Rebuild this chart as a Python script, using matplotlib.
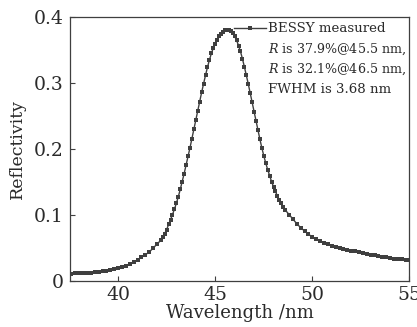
import matplotlib
matplotlib.use('Agg')
import matplotlib.pyplot as plt
from matplotlib.lines import Line2D
from matplotlib.ticker import FuncFormatter

plt.rcParams['font.family'] = 'DejaVu Serif'
plt.rcParams['mathtext.fontset'] = 'dejavuserif'

# wavelength (nm) and reflectivity
wavelength = [
    37.5, 37.6, 37.8, 38.0, 38.2, 38.4, 38.6, 38.8, 39.0, 39.2, 39.4, 39.6, 39.8,
    40.0, 40.2, 40.4, 40.6, 40.8, 41.0, 41.2, 41.4, 41.6, 41.8, 42.0, 42.2,
    42.3, 42.4, 42.5, 42.6, 42.7, 42.8, 42.9, 43.0, 43.1, 43.2, 43.3, 43.4,
    43.5, 43.6, 43.7, 43.8, 43.9, 44.0, 44.1, 44.2, 44.3, 44.4, 44.5, 44.6,
    44.7, 44.8, 44.9, 45.0, 45.1, 45.2, 45.3, 45.4, 45.5, 45.6, 45.7, 45.8,
    45.9, 46.0, 46.1, 46.2, 46.3, 46.4, 46.5, 46.6, 46.7, 46.8, 46.9, 47.0,
    47.1, 47.2, 47.3, 47.4, 47.5, 47.6, 47.7, 47.8, 47.9, 48.0, 48.1, 48.2,
    48.3, 48.4, 48.5, 48.6, 48.8, 49.0, 49.2, 49.4, 49.6, 49.8, 50.0, 50.2,
    50.4, 50.6, 50.8, 51.0, 51.2, 51.4, 51.6, 51.8, 52.0, 52.2, 52.4, 52.6,
    52.8, 53.0, 53.2, 53.4, 53.6, 53.8, 54.0, 54.2, 54.4, 54.6, 54.8, 55.0,
]
reflectivity = [
    0.0104, 0.0105, 0.0107, 0.0110, 0.0113, 0.0117, 0.0121, 0.0126, 0.0132, 0.0139, 0.0148, 0.0158, 0.0170,
    0.0184, 0.0200, 0.0218, 0.0250, 0.0280, 0.0310, 0.0350, 0.0390, 0.0430, 0.0490, 0.0550, 0.0610,
    0.066, 0.071, 0.077, 0.085, 0.092, 0.100, 0.108, 0.117, 0.127, 0.138, 0.150, 0.162,
    0.175, 0.188, 0.201, 0.215, 0.229, 0.243, 0.257, 0.271, 0.285, 0.298, 0.311, 0.323,
    0.334, 0.344, 0.352, 0.359, 0.365, 0.370, 0.374, 0.377, 0.379, 0.380, 0.380, 0.378,
    0.375, 0.370, 0.364, 0.356, 0.347, 0.336, 0.324, 0.311, 0.298, 0.284, 0.270, 0.256,
    0.242, 0.228, 0.214, 0.201, 0.189, 0.178, 0.168, 0.159, 0.150, 0.142, 0.135, 0.128,
    0.122, 0.117, 0.112, 0.107, 0.100, 0.093, 0.086, 0.080, 0.075, 0.070, 0.066, 0.063,
    0.060, 0.057, 0.055, 0.053, 0.051, 0.049, 0.047, 0.046, 0.045, 0.044, 0.043, 0.041,
    0.040, 0.039, 0.038, 0.037, 0.036, 0.035, 0.034, 0.033, 0.033, 0.032, 0.031, 0.031,
]

x_ticks = [40, 45, 50, 55]
y_ticks = [0, 0.1, 0.2, 0.3, 0.4]
legend_label = 'BESSY measured'
note_lines = ['$R$ is 37.9%@45.5 nm,', '$R$ is 32.1%@46.5 nm,', 'FWHM is 3.68 nm']

c_dark = '#3f3f3f'
c_text = '#2a2a2a'

fig = plt.figure(figsize=(4.17, 3.27), dpi=100)
ax = fig.add_axes([0.1667, 0.1422, 0.8153, 0.8073])

ax.plot(wavelength, reflectivity, color=c_dark, linewidth=1.0,
        marker='s', markersize=2.2, markeredgewidth=0, markerfacecolor=c_dark)

ax.set_xlim(37.5, 55)
ax.set_ylim(0, 0.4)
ax.set_xticks(x_ticks)
ax.set_yticks(y_ticks)
ax.yaxis.set_major_formatter(FuncFormatter(lambda v, p: '0' if v == 0 else f'{v:.1f}'))
ax.tick_params(direction='in', length=3.5, width=0.8, color=c_dark,
               labelsize=13.5, labelcolor=c_text, pad=4)
for s in ax.spines.values():
    s.set_color(c_dark)
    s.set_linewidth(0.9)

ax.set_xlabel('Wavelength /nm', fontsize=13, color=c_text, labelpad=0)
ax.set_ylabel('Reflectivity', fontsize=12.5, color=c_text, labelpad=5.5)

# legend entry + notes
handle = Line2D([], [], color=c_dark, linewidth=1.0, marker='s', markersize=2.2,
                markeredgewidth=0, markerfacecolor=c_dark)
ax.legend(handles=[handle], labels=[legend_label], loc='center left',
          bbox_to_anchor=(0.485, 0.953), frameon=False, fontsize=9.6,
          handlelength=2.4, handletextpad=0.1, borderpad=0, borderaxespad=0,
          labelcolor=c_text)
for txt, yy, fs in zip(note_lines, [0.877, 0.799, 0.723], [9.1, 9.1, 9.6]):
    ax.text(0.584, yy, txt, transform=ax.transAxes, fontsize=fs, color=c_text,
            va='center', ha='left')

fig.savefig('out.png', dpi=100)
